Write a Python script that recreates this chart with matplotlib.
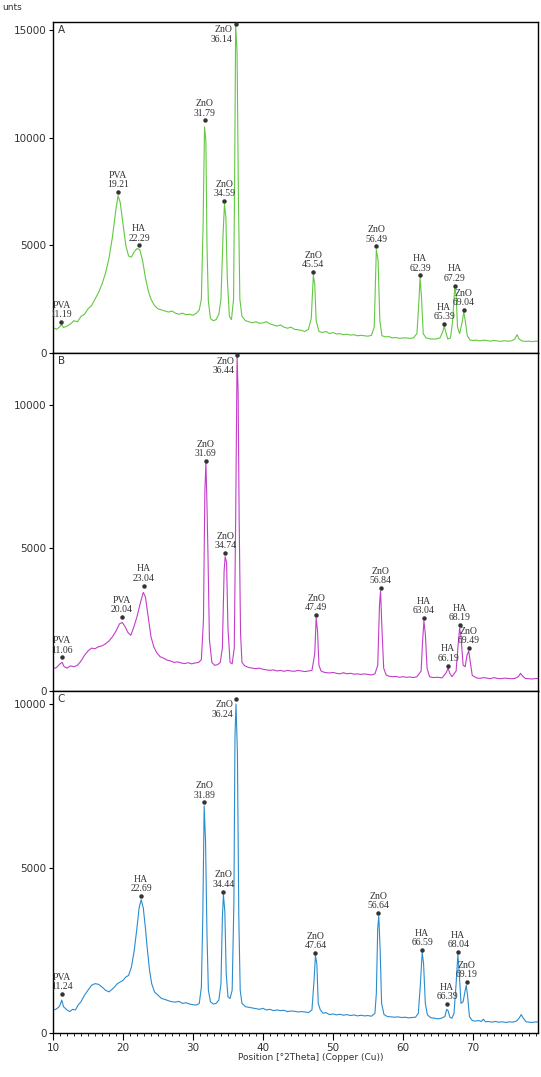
import matplotlib
matplotlib.use("Agg")
import matplotlib.pyplot as plt

# pattern A (green)
a_x = [10.0, 10.5, 10.9, 11.2, 11.5, 12.0, 12.5, 13.0, 13.5, 14.0, 14.5, 15.0, 15.5, 16.0, 16.5, 17.0, 17.5, 18.0, 18.5, 19.0,
       19.3, 19.6, 20.0, 20.4, 20.8, 21.2, 21.6, 22.0, 22.4, 22.8, 23.2, 23.6, 24.0, 24.5, 25.0, 25.5, 26.0, 26.5, 27.0, 27.5,
       28.0, 28.5, 29.0, 29.5, 30.0, 30.5, 30.9, 31.2, 31.45, 31.65, 31.85, 32.0, 32.2, 32.5, 32.9, 33.3, 33.7, 34.0, 34.3, 34.5,
       34.7, 34.9, 35.2, 35.5, 35.8, 35.95, 36.1, 36.3, 36.5, 36.7, 37.0, 37.5, 38.0, 38.5, 39.0, 39.5, 40.0, 40.5, 41.0, 41.5,
       42.0, 42.5, 43.0, 43.5, 44.0, 44.5, 45.0, 45.5, 46.0, 46.5, 46.9, 47.2, 47.4, 47.6, 48.0, 48.5, 49.0, 49.5, 50.0, 50.5,
       51.0, 51.5, 52.0, 52.5, 53.0, 53.5, 54.0, 54.5, 55.0, 55.5, 55.9, 56.2, 56.45, 56.7, 57.0, 57.5, 58.0, 58.5, 59.0, 59.5,
       60.0, 60.5, 61.0, 61.5, 62.0, 62.3, 62.45, 62.65, 62.9, 63.3, 64.0, 64.7, 65.3, 65.7, 65.9, 66.1, 66.4, 66.8, 67.1, 67.4,
       67.6, 67.8, 68.1, 68.5, 68.7, 68.9, 69.2, 69.6, 70.0, 70.5, 71.0, 71.5, 72.0, 72.5, 73.0, 73.5, 74.0, 74.5, 75.0, 75.5,
       76.0, 76.3, 76.6, 77.0, 77.5, 78.0, 78.5, 79.0, 79.3]
a_y = [1180, 1100, 1200, 1320, 1180, 1250, 1350, 1500, 1450, 1700, 1800, 2050, 2200, 2500, 2800, 3200, 3700, 4400, 5400, 6700,
       7300, 7000, 6000, 5000, 4500, 4450, 4700, 4850, 4800, 4300, 3500, 2900, 2500, 2200, 2050, 2000, 1950, 1900, 1950, 1850,
       1800, 1850, 1780, 1800, 1750, 1850, 2000, 2500, 6000, 10500, 9800, 5000, 2400, 1600, 1500, 1550, 1800, 2500, 5500, 6900,
       6300, 3500, 1700, 1550, 2500, 8000, 15200, 14000, 7000, 2500, 1700, 1500, 1450, 1400, 1450, 1380, 1400, 1450, 1350, 1300,
       1250, 1300, 1200, 1150, 1200, 1100, 1080, 1050, 1000, 1100, 1600, 3600, 3200, 1500, 1000, 950, 1000, 900, 950, 880,
       900, 850, 870, 830, 850, 800, 820, 800, 780, 820, 1200, 4800, 4300, 1500, 800, 750, 760, 700, 720, 680,
       700, 700, 680, 700, 900, 2500, 3500, 2600, 900, 700, 650, 650, 700, 1000, 1250, 1000, 650, 700, 1500, 3000,
       2700, 1200, 900, 1500, 1900, 1500, 800, 600, 580, 600, 560, 600, 580, 550, 580, 560, 540, 570, 550, 560,
       650, 850, 650, 560, 540, 550, 530, 550, 540]

a_pk_x = [11.2, 19.3, 22.3, 31.65, 34.5, 36.1, 47.2, 56.2, 62.45, 65.9, 67.4, 68.7]
a_pk_y = [1430, 7470, 5000, 10800, 7050, 15270, 3770, 4950, 3600, 1340, 3130, 2000]
a_pk_name = ["PVA", "PVA", "HA", "ZnO", "ZnO", "ZnO", "ZnO", "ZnO", "HA", "HA", "HA", "ZnO"]
a_pk_val = ["11.19", "19.21", "22.29", "31.79", "34.59", "36.14", "45.54", "56.49", "62.39", "65.39", "67.29", "69.04"]

# pattern B (magenta)
b_x = [10.0, 10.5, 11.0, 11.3, 11.6, 12.0, 12.5, 13.0, 13.5, 14.0, 14.5, 15.0, 15.5, 16.0, 16.5, 17.0, 17.5, 18.0, 18.5, 19.0,
       19.5, 19.9, 20.3, 20.7, 21.1, 21.5, 22.0, 22.5, 22.9, 23.2, 23.6, 24.0, 24.4, 24.8, 25.3, 25.8, 26.3, 26.8, 27.3, 27.8,
       28.3, 28.8, 29.3, 29.8, 30.3, 30.8, 31.2, 31.5, 31.7, 31.85, 32.0, 32.15, 32.35, 32.7, 33.1, 33.5, 33.9, 34.2, 34.45, 34.6,
       34.8, 35.0, 35.3, 35.6, 35.9, 36.1, 36.3, 36.45, 36.6, 36.8, 37.0, 37.4, 38.0, 38.5, 39.0, 39.5, 40.0, 40.5, 41.0, 41.5,
       42.0, 42.5, 43.0, 43.5, 44.0, 44.5, 45.0, 45.5, 46.0, 46.5, 47.0, 47.4, 47.6, 47.8, 48.0, 48.3, 48.8, 49.5, 50.0, 50.5,
       51.0, 51.5, 52.0, 52.5, 53.0, 53.5, 54.0, 54.5, 55.0, 55.5, 56.0, 56.4, 56.65, 56.8, 57.0, 57.25, 57.6, 58.0, 58.5, 59.0,
       59.5, 60.0, 60.5, 61.0, 61.5, 62.0, 62.6, 62.8, 63.0, 63.2, 63.45, 63.8, 64.3, 65.0, 65.6, 66.2, 66.45, 66.7, 67.0, 67.6,
       67.85, 68.1, 68.3, 68.6, 68.9, 69.15, 69.4, 69.6, 69.9, 70.5, 71.0, 71.5, 72.0, 72.5, 73.0, 73.5, 74.0, 74.5, 75.0, 75.5,
       76.0, 76.5, 76.8, 77.1, 77.5, 78.0, 78.5, 79.0, 79.3]
b_y = [780, 820, 950, 1000, 850, 800, 880, 850, 900, 1050, 1250, 1400, 1500, 1480, 1550, 1580, 1650, 1750, 1900, 2100,
       2350, 2400, 2250, 2050, 1950, 2200, 2600, 3100, 3450, 3300, 2600, 1900, 1550, 1350, 1200, 1150, 1080, 1050, 1000, 1020,
       980, 960, 990, 950, 980, 1000, 1100, 2500, 7000, 8000, 6500, 4700, 1800, 1000, 900, 920, 1000, 1500, 4200, 4700,
       4500, 2200, 1000, 950, 1500, 6000, 11700, 10500, 6000, 2000, 1000, 880, 820, 800, 780, 800, 760, 740, 720, 740,
       700, 720, 690, 720, 700, 690, 720, 700, 680, 700, 720, 1300, 2550, 2100, 900, 700, 650, 630, 650, 620,
       600, 640, 600, 620, 590, 600, 580, 600, 580, 560, 600, 900, 3000, 3500, 2200, 800, 560, 520, 500, 510,
       480, 500, 480, 490, 470, 500, 700, 1700, 2450, 2000, 800, 500, 470, 480, 460, 650, 800, 620, 500, 700,
       1500, 2200, 1900, 900, 850, 1250, 1400, 1050, 550, 460, 440, 470, 450, 430, 470, 440, 430, 450, 440, 430,
       440, 500, 620, 520, 440, 430, 420, 440, 430]

b_pk_x = [11.3, 19.8, 22.95, 31.85, 34.6, 36.3, 47.6, 56.8, 63.0, 66.45, 68.1, 69.4]
b_pk_y = [1180, 2580, 3690, 8050, 4830, 11750, 2650, 3600, 2550, 890, 2310, 1500]
b_pk_name = ["PVA", "PVA", "HA", "ZnO", "ZnO", "ZnO", "ZnO", "ZnO", "HA", "HA", "HA", "ZnO"]
b_pk_val = ["11.06", "20.04", "23.04", "31.69", "34.74", "36.44", "47.49", "56.84", "63.04", "66.19", "68.19", "69.49"]

# pattern C (blue)
c_x = [10.0, 10.4, 10.8, 11.0, 11.25, 11.5, 12.0, 12.4, 12.8, 13.2, 13.6, 14.0, 14.5, 15.0, 15.5, 16.0, 16.5, 17.0, 17.5, 18.0,
       18.4, 18.8, 19.2, 19.6, 20.0, 20.4, 20.8, 21.2, 21.6, 22.0, 22.3, 22.6, 22.9, 23.2, 23.5, 23.8, 24.1, 24.5, 25.0, 25.5,
       26.0, 26.5, 27.0, 27.5, 28.0, 28.5, 29.0, 29.5, 30.0, 30.5, 30.9, 31.2, 31.4, 31.6, 31.8, 32.0, 32.2, 32.5, 32.9, 33.3,
       33.7, 34.0, 34.2, 34.35, 34.55, 34.75, 35.0, 35.3, 35.6, 35.85, 36.0, 36.15, 36.35, 36.55, 36.75, 37.0, 37.5, 38.0, 38.5, 39.0,
       39.5, 40.0, 40.5, 41.0, 41.5, 42.0, 42.5, 43.0, 43.5, 44.0, 44.5, 45.0, 45.5, 46.0, 46.5, 47.0, 47.3, 47.5, 47.7, 47.9,
       48.2, 48.6, 49.0, 49.5, 50.0, 50.5, 51.0, 51.5, 52.0, 52.5, 53.0, 53.5, 54.0, 54.5, 55.0, 55.5, 56.0, 56.2, 56.4, 56.55,
       56.75, 56.95, 57.3, 57.8, 58.3, 58.8, 59.3, 59.8, 60.3, 60.8, 61.3, 61.8, 62.2, 62.5, 62.75, 62.95, 63.2, 63.5, 64.0, 64.5,
       65.0, 65.5, 66.0, 66.25, 66.45, 66.7, 67.0, 67.3, 67.6, 67.85, 68.05, 68.3, 68.6, 68.9, 69.05, 69.25, 69.5, 69.9, 70.3, 70.8,
       71.2, 71.5, 71.8, 72.2, 72.7, 73.2, 73.7, 74.2, 74.7, 75.2, 75.7, 76.2, 76.6, 76.9, 77.2, 77.6, 78.0, 78.5, 79.0, 79.3]
c_y = [700, 720, 780, 850, 1000, 800, 700, 650, 720, 700, 850, 950, 1150, 1300, 1450, 1500, 1480, 1400, 1300, 1250,
       1320, 1400, 1500, 1550, 1600, 1700, 1750, 2000, 2500, 3200, 3800, 4050, 3800, 3200, 2500, 1900, 1500, 1250, 1150, 1050,
       1020, 980, 950, 940, 960, 900, 920, 880, 860, 850, 900, 1400, 3500, 6900, 5800, 3000, 1300, 950, 880, 900,
       1000, 1500, 3500, 4200, 3700, 1800, 1100, 1050, 1300, 4000, 9000, 10000, 8500, 3500, 1300, 900, 800, 780, 760, 740,
       720, 750, 700, 720, 680, 700, 680, 690, 650, 670, 660, 640, 650, 640, 620, 700, 1600, 2350, 2100, 900,
       700, 600, 620, 560, 580, 550, 570, 540, 560, 530, 550, 520, 540, 520, 530, 510, 600, 1200, 3200, 3550,
       2500, 900, 560, 500, 490, 480, 490, 470, 480, 460, 470, 480, 600, 1500, 2450, 2100, 900, 550, 460, 450,
       430, 450, 500, 720, 680, 480, 450, 600, 1500, 2380, 1800, 900, 950, 1300, 1450, 1100, 500, 380, 360, 380,
       350, 420, 340, 350, 330, 350, 330, 340, 320, 340, 330, 360, 450, 560, 450, 340, 330, 320, 340, 330]

c_pk_x = [11.25, 22.6, 31.6, 34.35, 36.15, 47.5, 56.5, 62.75, 66.3, 67.9, 69.1]
c_pk_y = [1190, 4160, 7010, 4300, 10150, 2440, 3640, 2520, 880, 2460, 1560]
c_pk_name = ["PVA", "HA", "ZnO", "ZnO", "ZnO", "ZnO", "ZnO", "HA", "HA", "HA", "ZnO"]
c_pk_val = ["11.24", "22.69", "31.89", "34.44", "36.24", "47.64", "56.64", "66.59", "66.39", "68.04", "69.19"]

W, H = 541, 1077
fig = plt.figure(figsize=(W / 100, H / 100), dpi=100)

def box(top, bottom):
    return [53 / W, 1 - bottom / H, (538 - 53) / W, (bottom - top) / H]

panels = [
    (box(22, 353), a_x, a_y, "#62c842", (251, 15365), "A", a_pk_x, a_pk_y, a_pk_name, a_pk_val),
    (box(353, 691), b_x, b_y, "#c23ec8", (172, 11828), "B", b_pk_x, b_pk_y, b_pk_name, b_pk_val),
    (box(691, 1033), c_x, c_y, "#2b8ccf", (0, 10395), "C", c_pk_x, c_pk_y, c_pk_name, c_pk_val),
]

serif = ["Liberation Serif", "DejaVu Serif"]
axes = []
for rect, xs, ys, col, ylim, letter, px, py, pn, pv in panels:
    ax = fig.add_axes(rect)
    ax.plot(xs, ys, color=col, lw=0.8)
    ax.set_xlim(10, 79.3)
    ax.set_ylim(*ylim)
    ax.set_yticks(range(0, int(ylim[1]) + 1, 5000))
    ax.tick_params(axis="y", direction="out", length=3, width=0.8, labelsize=7.5, labelcolor="#333333", pad=1.5)
    for s in ax.spines.values():
        s.set_linewidth(1.0)
    ax.text(0.01, 0.99, letter, transform=ax.transAxes, ha="left", va="top", fontsize=7.5, color="#333333")

    ax.plot(px, py, "o", ms=2.2, color="#333333", zorder=3)
    top = ylim[1]
    for x, y, n, v in zip(px, py, pn, pv):
        if y > 0.9 * top:
            ax.annotate(n + "\n" + v, (x, y), xytext=(-2, -1), textcoords="offset points",
                        ha="right", va="top", fontsize=7, family=serif, color="#333333", linespacing=1.05)
        else:
            ax.annotate(n + "\n" + v, (x, y), xytext=(0, 2), textcoords="offset points",
                        ha="center", va="bottom", fontsize=7, family=serif, color="#333333", linespacing=1.05)
    axes.append(ax)

for ax in axes[:2]:
    ax.tick_params(axis="x", bottom=False, labelbottom=False)

axc = axes[2]
axc.set_xticks([10, 20, 30, 40, 50, 60, 70])
axc.set_xticks(range(10, 80), minor=True)
axc.tick_params(axis="x", which="major", direction="out", length=5, width=0.8, labelsize=7.5, labelcolor="#333333", pad=2)
axc.tick_params(axis="x", which="minor", direction="out", length=2.5, width=0.6)

fig.text(311 / W, 1 - 1058 / H, "Position [°2Theta] (Copper (Cu))", ha="center", va="center", fontsize=6.5, color="#333333")
fig.text(2 / W, 1 - 8 / H, "unts", ha="left", va="center", fontsize=6.5, color="#333333")

fig.savefig("out.png", dpi=100)
